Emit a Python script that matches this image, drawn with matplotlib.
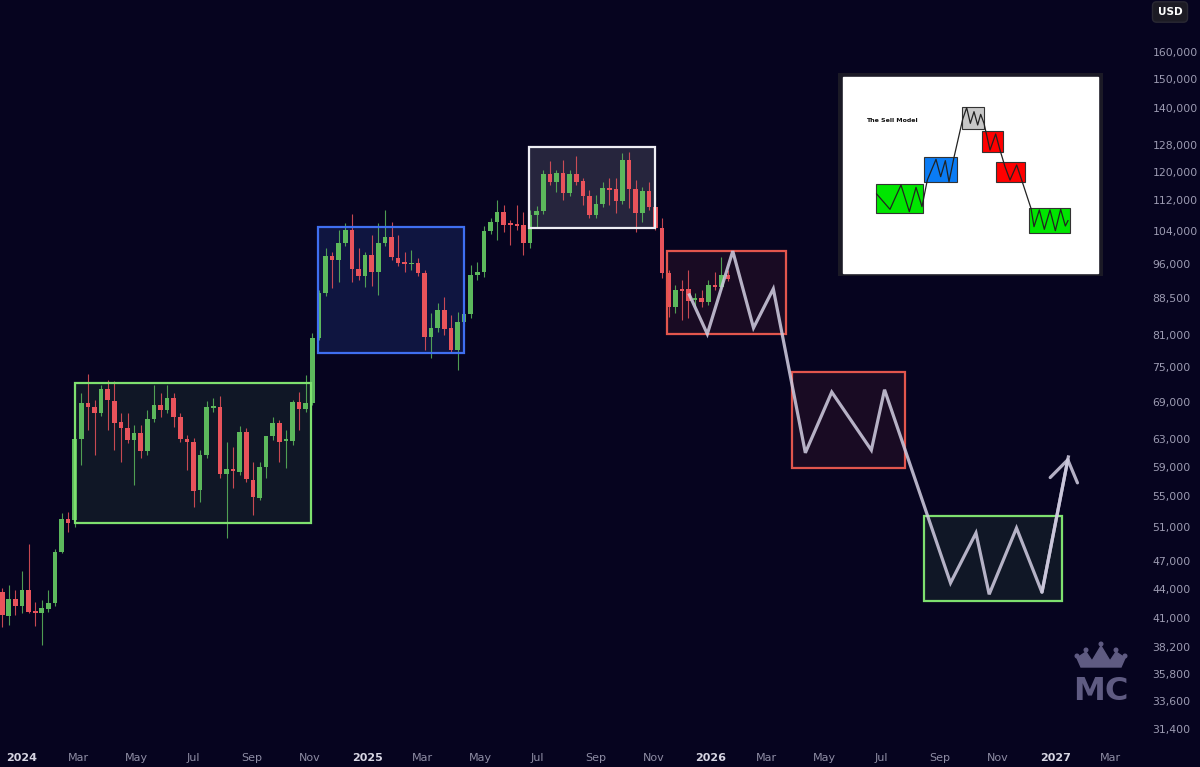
import numpy as np
import pandas as pd
import matplotlib
matplotlib.use("Agg")
import matplotlib.pyplot as plt
from matplotlib.patches import Rectangle, Polygon, Circle
from matplotlib.ticker import NullLocator

BG = "#06041f"
UP = "#5cb85c"
DOWN = "#e8535b"

# weekly candles, BTC/USD
dates = pd.date_range("2023-12-11", periods=111, freq="7D")
opens = [43600, 41200, 42900, 42200, 43900, 41600, 41500, 41900, 42500, 48100,
         52000, 51900, 63000, 68800, 68100, 67100, 71100, 69100, 65700, 64700,
         62900, 64000, 61200, 66200, 68400, 67600, 69600, 66500, 63000, 62600,
         55800, 60700, 67900, 68100, 58000, 58700, 58200, 64100, 57100, 54700,
         58900, 63500, 65500, 62700, 62700, 68900, 67800, 68800, 80400, 89600,
         97900, 97000, 101000, 104200, 94900, 93300, 98200, 94200, 101000, 102500,
         97500, 96500, 96000, 96300, 94000, 80600, 82400, 86000, 82400, 78100,
         83600, 85200, 93600, 94200, 104000, 106300, 108900, 105800, 105500, 105500,
         101000, 108100, 109100, 119300, 117000, 119600, 114000, 119300, 117300, 113100,
         108100, 111000, 115300, 115100, 111800, 123400, 115100, 108600, 114500, 110200,
         104800, 94000, 86600, 90500, 90500, 88100, 88500, 87700, 91300, 90900,
         93600]
highs = [44050, 44400, 43800, 45900, 49000, 42600, 42800, 43800, 48400, 52800,
         52900, 63400, 70400, 73700, 69200, 71800, 72700, 72500, 67100, 67100,
         65200, 65200, 67600, 71800, 70400, 71800, 70400, 67100, 63700, 63200,
         61400, 69100, 69600, 69900, 62600, 61800, 65100, 64700, 59700, 59700,
         59700, 66500, 66000, 64400, 69200, 70600, 73500, 81400, 90200, 99800,
         98900, 104200, 106000, 108400, 99800, 98900, 103000, 106000, 109400, 106300,
         103000, 98900, 99300, 97500, 94700, 85400, 87500, 88700, 85000, 85600,
         85600, 95800, 96500, 105300, 107300, 112000, 110700, 106800, 110700, 108900,
         109400, 110500, 120400, 123100, 120400, 123400, 120400, 124600, 118100, 114800,
         113400, 117000, 118100, 118100, 125500, 125800, 117600, 115600, 117000, 112900,
         107300, 94700, 91300, 92400, 94700, 89600, 90200, 92400, 94200, 97700,
         94700]
lows = [40100, 40300, 41300, 41500, 41500, 40200, 38400, 41600, 42200, 47900,
        50400, 51000, 59200, 64400, 60700, 66600, 64400, 61400, 59700, 62400,
        56400, 60200, 60700, 65700, 66500, 67100, 64900, 62600, 58500, 53500,
        54200, 60200, 67300, 57400, 49700, 56000, 57800, 56900, 52500, 54400,
        57400, 62900, 59700, 58800, 62100, 64400, 67300, 68400, 80000, 88900,
        90700, 92000, 100300, 92000, 92400, 90900, 91100, 89200, 100300, 97000,
        95600, 94200, 94700, 93300, 78100, 76600, 81600, 81000, 77700, 74400,
        82800, 84400, 92400, 93100, 103300, 101800, 103800, 100600, 104200, 98200,
        99800, 105000, 108400, 116200, 114200, 112000, 113100, 116200, 110700, 107300,
        107300, 110200, 110700, 108600, 111000, 109900, 103800, 106300, 109400, 104200,
        92900, 84600, 85400, 83900, 84400, 86800, 86600, 87000, 90200, 90200,
        92200]
closes = [41300, 42900, 42200, 43900, 41600, 41500, 42000, 42500, 48100, 52000,
          51500, 63000, 68800, 68100, 67100, 71100, 69200, 65500, 64700, 62900,
          64000, 61200, 66200, 68400, 67600, 69600, 66500, 63000, 62600, 55600,
          60700, 68100, 68300, 58000, 58700, 58400, 64100, 57300, 54800, 58900,
          63500, 65500, 62600, 63000, 68900, 67800, 68800, 80400, 89600, 97900,
          97000, 101000, 104200, 94900, 93300, 98200, 94200, 101000, 102500, 97700,
          96300, 96100, 96300, 94000, 80600, 82400, 86000, 82200, 78100, 83600,
          85200, 93600, 94200, 104000, 106300, 108900, 105500, 105500, 105300, 101000,
          108100, 109100, 119300, 117000, 119600, 114000, 119300, 117000, 113100, 108100,
          111000, 115300, 114800, 111800, 123400, 115100, 108600, 114500, 110200, 104800,
          94000, 86600, 90200, 90000, 87900, 88500, 87700, 91300, 90900, 93600,
          92700]

# projected path drawn on the chart
proj_dates = pd.to_datetime(["2025-12-09", "2025-12-28", "2026-01-24", "2026-02-15",
                             "2026-03-08", "2026-04-11", "2026-05-09", "2026-06-20",
                             "2026-07-04", "2026-09-12", "2026-10-09", "2026-10-23",
                             "2026-11-21", "2026-12-18", "2027-01-15"])
proj_prices = [89200, 81200, 99100, 82400, 90500, 61000, 70600, 61400,
               71000, 44600, 50300, 43400, 50900, 43600, 60400]

# range boxes: start, end, low, high, colour, fill alpha
zones = [("2024-02-26", "2024-11-03", 51500, 72100, "#7ee06f", 0.09),
         ("2024-11-10", "2025-04-14", 77600, 105000, "#3f6ff0", 0.16),
         ("2025-06-22", "2025-11-02", 104800, 127300, "#eeeef4", 0.14),
         ("2025-11-15", "2026-03-22", 81200, 99100, "#e2564d", 0.09),
         ("2026-03-28", "2026-07-26", 58800, 74100, "#e2564d", 0.09),
         ("2026-08-15", "2027-01-08", 42700, 52400, "#7ee06f", 0.09)]

price_ticks = [31400, 33600, 35800, 38200, 41000, 44000, 47000, 51000, 55000, 59000,
               63000, 69000, 75000, 81000, 88500, 96000, 104000, 112000, 120000,
               128000, 140000, 150000, 160000]
month_ticks = pd.date_range("2024-01-01", "2027-03-01", freq="2MS")

fig = plt.figure(figsize=(12, 7.67), dpi=100, facecolor=BG)
ax = fig.add_axes([0, 25 / 767, 1140 / 1200, 742 / 767])
ax.set_facecolor(BG)
ax.set_yscale("log")
ax.set_ylim(30420, 181340)
ax.set_xlim(pd.Timestamp("2023-12-08 16:00"), pd.Timestamp("2027-04-01"))

o = np.array(opens)
c = np.array(closes)
cols = [UP if cc >= oo else DOWN for oo, cc in zip(o, c)]
body_lo = np.minimum(o, c)
body_h = np.maximum(np.abs(c - o), body_lo * 0.004)
ax.vlines(dates, lows, highs, colors=cols, lw=0.8, alpha=0.85, zorder=2)
ax.bar(dates, body_h, bottom=body_lo, width=4.9, color=cols, lw=0, zorder=3)

for start, end, lo, hi, col, a in zones:
    x0 = pd.Timestamp(start)
    w = pd.Timestamp(end) - x0
    ax.add_patch(Rectangle((x0, lo), w, hi - lo, facecolor=col, alpha=a, lw=0, zorder=1))
    ax.add_patch(Rectangle((x0, lo), w, hi - lo, fill=False, edgecolor=col, lw=1.6, zorder=4))

PATH = "#cdc9dd"
ax.plot(proj_dates, proj_prices, color=PATH, lw=2.3, alpha=0.88, zorder=5,
        solid_joinstyle="miter")
ax.annotate("", xy=(proj_dates[-1], proj_prices[-1]), xytext=(proj_dates[-2], proj_prices[-2]),
            arrowprops=dict(arrowstyle="->,head_length=0.6,head_width=0.4", color=PATH,
                            lw=2.3, alpha=0.88, mutation_scale=25, shrinkA=0, shrinkB=0),
            zorder=5)

for s in ax.spines.values():
    s.set_visible(False)

ax.yaxis.tick_right()
ax.yaxis.set_minor_locator(NullLocator())
ax.set_yticks(price_ticks)
ax.set_yticklabels([f"{p:,}" for p in price_ticks])
ax.tick_params(axis="y", length=0, pad=9, labelsize=7.8, labelcolor="#9c9bb2")

ax.set_xticks(month_ticks)
ax.set_xticklabels([d.strftime("%Y") if d.month == 1 else d.strftime("%b") for d in month_ticks])
ax.tick_params(axis="x", length=0, pad=8, labelsize=8, labelcolor="#8d8ca3")
for lab, d in zip(ax.get_xticklabels(), month_ticks):
    if d.month == 1:
        lab.set_fontweight("bold")
        lab.set_color("#d6d5e2")

fig.text(1170 / 1200, 1 - 12 / 767, "USD", color="white", fontsize=7.5, fontweight="bold",
         ha="center", va="center",
         bbox=dict(boxstyle="round,pad=0.5,rounding_size=0.4", fc="#1c1b24", ec="#2a2933"))

# inset picture: "The Sell Model"
ins = fig.add_axes([838 / 1200, 1 - 276 / 767, 265 / 1200, 203 / 767])
ins.set_xlim(24, 819)
ins.set_ylim(618, 9)
ins.axis("off")
ins.add_patch(Rectangle((24, 9), 795, 609, color="#1b1a26"))
ins.add_patch(Rectangle((40, 20), 765, 590, color="white"))
sell_boxes = [(138, 343, 278, 430, "#00e600"), (283, 260, 380, 337, "#0a7cf5"),
              (395, 110, 463, 176, "#c8c8c8"), (455, 183, 518, 247, "#ff0000"),
              (497, 275, 585, 335, "#ff0000"), (597, 413, 720, 488, "#00e600")]
for x0, y0, x1, y1, col in sell_boxes:
    ins.add_patch(Rectangle((x0, y0), x1 - x0, y1 - y0, facecolor=col, edgecolor="#333333", lw=0.8))
sell_x = [140, 180, 213, 238, 258, 276, 292, 318, 332, 346, 357, 372, 398, 410, 421, 432,
          443, 452, 462, 480, 497, 510, 525, 540, 560, 575, 603, 612, 628, 643, 660, 676,
          692, 706, 714]
sell_y = [372, 418, 345, 425, 352, 410, 330, 268, 320, 272, 335, 262, 148, 113, 160, 125,
          165, 133, 160, 240, 192, 240, 290, 330, 285, 330, 415, 470, 420, 478, 420, 482,
          418, 468, 452]
ins.plot(sell_x, sell_y, color="#222222", lw=0.9)
ins.text(108, 150, "The Sell Model", fontsize=4.5, fontweight="bold", color="#111111", va="center")

# watermark logo
logo = fig.add_axes([1065 / 1200, 1 - 720 / 767, 70 / 1200, 80 / 767])
logo.set_xlim(0, 70)
logo.set_ylim(80, 0)
logo.axis("off")
LOGO = "#5f5b82"
logo.add_patch(Polygon([(12, 18), (21, 12), (27, 21), (36, 6), (45, 21), (51, 12), (60, 18),
                        (56, 27), (16, 27)], closed=True, color=LOGO))
for cx, cy in [(12, 16), (21, 10), (36, 4), (51, 10), (60, 16)]:
    logo.add_patch(Circle((cx, cy), 1.8, color=LOGO))
logo.text(36, 52, "MC", family=["Liberation Sans Narrow", "DejaVu Sans"], fontweight="bold",
          fontsize=23, color=LOGO, ha="center", va="center")

fig.savefig("out.png", dpi=100, facecolor=BG)
